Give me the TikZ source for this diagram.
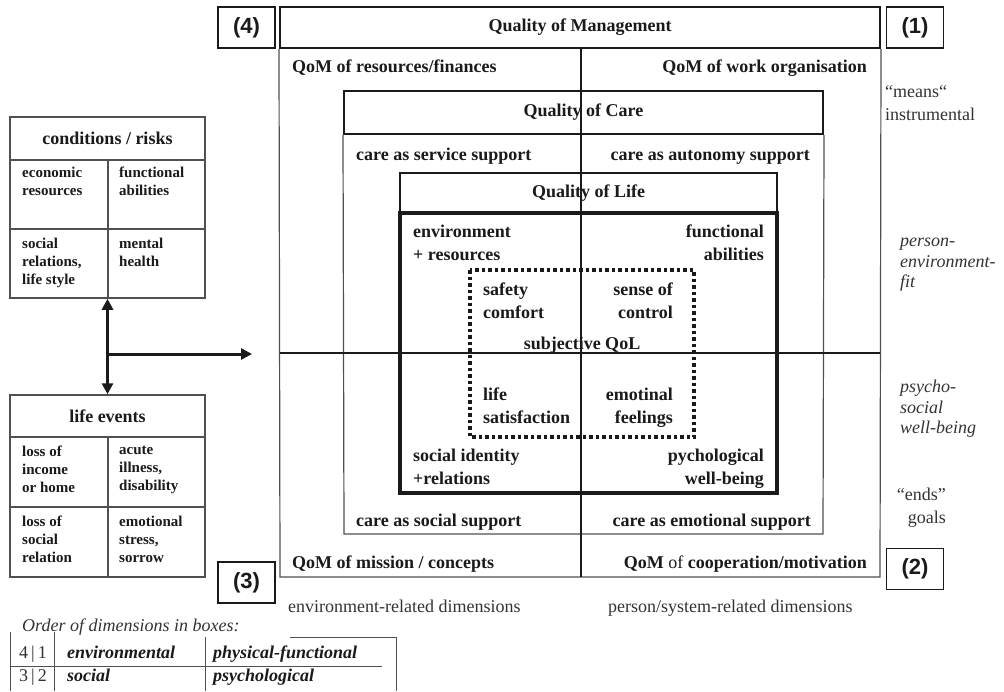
\documentclass[tikz,border=0pt]{standalone}
\usepackage{fontspec}
\setmainfont{Liberation Serif}
\setsansfont{Liberation Sans}
\usetikzlibrary{arrows.meta}
\definecolor{ink}{HTML}{1A1A1A}
\definecolor{greyline}{HTML}{505050}
\definecolor{greytext}{HTML}{333333}
\tikzset{
  big/.style={font=\fontsize{18}{22.5}\selectfont\bfseries, inner sep=0pt, text=ink},
  reg/.style={font=\fontsize{18}{23}\selectfont, inner sep=0pt, text=greytext},
  ital/.style={font=\fontsize{18}{20.5}\selectfont\itshape, inner sep=0pt, text=greytext},
  bi/.style={font=\fontsize{18}{22}\selectfont\bfseries\itshape, inner sep=0pt, text=ink},
  small/.style={font=\fontsize{15}{18}\selectfont\bfseries, inner sep=0pt, align=left, anchor=north west, text=ink},
  hdr/.style={draw=ink, line width=2pt, big},
  numbox/.style={draw=ink, line width=1.2pt, minimum width=57pt, minimum height=41pt, inner sep=0pt,
    font=\sffamily\bfseries\fontsize{22}{22}\selectfont, text=ink},
  thinline/.style={draw=greyline, line width=1.2pt},
  crossline/.style={draw=ink, line width=1.1pt},
  boxline/.style={draw=greyline, line width=1.5pt},
  arr/.style={draw=ink, line width=3pt},
  tip/.tip={Triangle[length=11pt,width=11pt]}
}
\begin{document}
\begin{tikzpicture}[x=1pt,y=-1pt]
\useasboundingbox[fill=white] (0,0) rectangle (1004,691);

% Quality of Management
\node[hdr, minimum width=600pt, minimum height=41pt] (qom) at (580,27.5) {Quality of Management};
\draw[thinline] (qom.south west) -- (280,577) -- (880,577) -- (qom.south east);
\node[big, anchor=base west] (qomres) at (292,72) {QoM of resources/finances};
\node[big, anchor=base east] (qomwork) at (867,72) {QoM of work organisation};
\node[big, anchor=base west] (qommis) at (292,568) {QoM of mission / concepts};
\node[big, anchor=base east] (qomcoop) at (867,568) {QoM {\mdseries of} cooperation/motivation};

% Quality of Care
\node[hdr, minimum width=479pt, minimum height=43pt] (qoc) at (583.5,112.5) {Quality of Care};
\draw[thinline] (qoc.south west) -- (344,534) -- (823,534) -- (qoc.south east);
\node[big, anchor=base west] (careserv) at (356,160) {care as service support};
\node[big, anchor=base east] (careaut) at (810,160) {care as autonomy support};
\node[big, anchor=base west] (caresoc) at (356,526) {care as social support};
\node[big, anchor=base east] (careemo) at (811,526) {care as emotional support};

% Quality of Life
\node[hdr, line width=2.2pt, minimum width=377pt, minimum height=40pt] (qol) at (588.5,193) {Quality of Life};
\draw[draw=ink, line width=4pt] (400,213) rectangle (777,493);
\node[big, anchor=north west, align=left] (envres) at (413,225) {environment\\+ resources};
\node[big, anchor=north east, align=right] (funab) at (764,225) {functional\\abilities};
\node[big, anchor=north west, align=left] (socid) at (413,449) {social identity\\+relations};
\node[big, anchor=north east, align=right] (psywb) at (764,449) {pychological\\well-being};

% subjective QoL
\draw[draw=ink, line width=3.5pt, dash pattern=on 3.5pt off 3pt] (470,270) rectangle (694,437);
\node[big, anchor=north west, align=left] (safety) at (483,283) {safety\\comfort};
\node[big, anchor=north east, align=right] (sense) at (673,283) {sense of\\control};
\node[big, anchor=base] (subj) at (582,349) {subjective QoL};
\node[big, anchor=north west, align=left] (lifesat) at (483,388) {life\\satisfaction};
\node[big, anchor=north east, align=right] (emo) at (673,388) {emotinal\\feelings};

% cross
\draw[crossline] (581,48) -- (581,577);
\draw[crossline] (280,353) -- (880,353);

% numbered boxes
\node[numbox] (n4) at (246.5,27.5) {(4)};
\node[numbox] (n1) at (915,27.5) {(1)};
\node[numbox] (n3) at (246.5,582.5) {(3)};
\node[numbox] (n2) at (915,569) {(2)};

% right side labels
\node[reg, anchor=north west, align=left] (means) at (885,85) {“means“\\instrumental};
\node[ital, anchor=north west, align=left] (pef) at (900,238) {person-\\environment-\\fit};
\node[ital, anchor=north west, align=left] (psw) at (900,380) {psycho-\\social\\well-being};
\node[reg, anchor=north east, align=right] (ends) at (946,488) {“ends”\\goals};

% bottom labels
\node[reg, anchor=base west] (envdim) at (288,612) {environment-related dimensions};
\node[reg, anchor=base west] (perdim) at (608,612) {person/system-related dimensions};

% conditions / risks
\node[boxline, minimum width=195pt, minimum height=181pt, inner sep=0pt] (crbox) at (107.5,207.5) {};
\node[big] (crt) at (107.5,138.5) {conditions / risks};
\draw[boxline] (10,160) -- (205,160) (10,229) -- (205,229) (108,160) -- (108,298);
\node[small] (c1) at (22,167) {economic\\resources};
\node[small] (c2) at (119,167) {functional\\abilities};
\node[small] (c3) at (22,238) {social\\relations,\\life style};
\node[small] (c4) at (119,238) {mental\\health};

% life events
\node[boxline, minimum width=195pt, minimum height=182pt, inner sep=0pt] (lebox) at (107.5,486) {};
\node[big] (let) at (107.5,416) {life events};
\draw[boxline] (10,437) -- (205,437) (10,507) -- (205,507) (108,437) -- (108,577);
\node[small] (l1) at (22,446) {loss of\\income\\or home};
\node[small] (l2) at (119,446) {acute\\illness,\\disability};
\node[small] (l3) at (22,516) {loss of\\social\\relation};
\node[small] (l4) at (119,516) {emotional\\stress,\\sorrow};

% arrows
\draw[arr, tip-tip] (crbox.south) -- (lebox.north);
\coordinate (jn) at (107.5,354);
\coordinate (tgt) at (252,354);
\draw[arr, -tip] (jn) -- (tgt);

% legend table
\node[ital, anchor=base west] (order) at (22,631) {Order of dimensions in boxes:};
\draw[thinline, line width=1pt] (10,632) -- (10,691) (54,632) -- (54,691) (205,637) -- (205,691)
  (290,637) -- (396,637) -- (396,691) (10,666) -- (382,666);
\node[reg, anchor=base] (t41) at (33,658) {4\,|\,1};
\node[bi, anchor=base west] (tenv) at (67,658) {environmental};
\node[bi, anchor=base west] (tphys) at (213,658) {physical-functional};
\node[reg, anchor=base] (t32) at (33,681) {3\,|\,2};
\node[bi, anchor=base west] (tsoc) at (67,681) {social};
\node[bi, anchor=base west] (tpsy) at (213,681) {psychological};
\end{tikzpicture}
\end{document}
